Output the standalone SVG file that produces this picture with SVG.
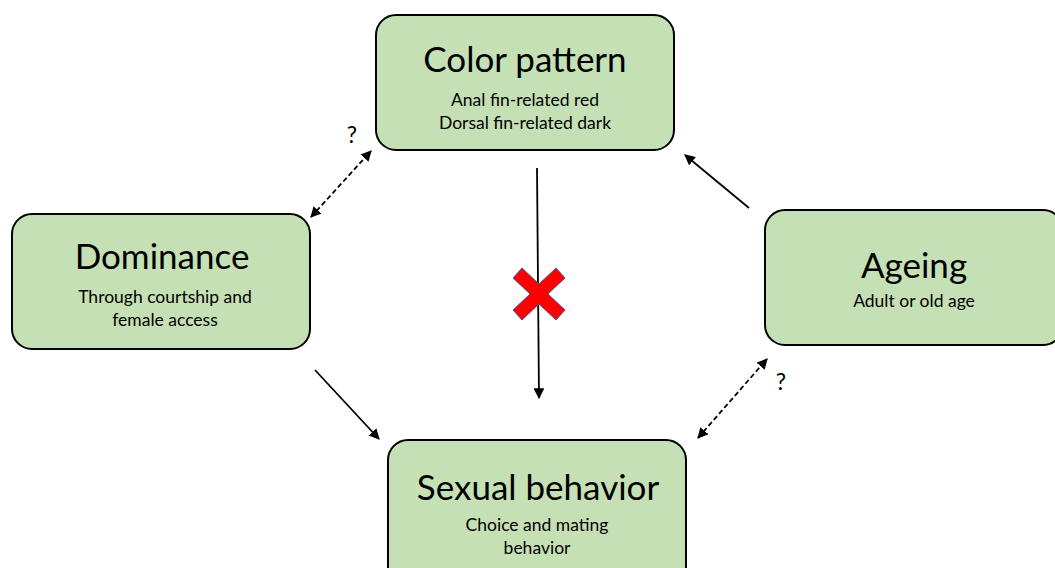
<svg xmlns="http://www.w3.org/2000/svg" width="1055" height="568" viewBox="0 0 1055 568">
<style>
.box{fill:#c5e0b4;stroke:#000;stroke-width:2}
.t{font-family:Lato,"Open Sans",sans-serif;fill:#000;text-anchor:middle}
.h{font-size:35px}
.s{font-size:17.5px}
.q{font-size:23px}
.c{stroke:#000;stroke-width:1.8;fill:none}
.d{stroke-dasharray:5,3}
</style>
<defs>
<marker id="ah" viewBox="0 0 10 10" refX="9" refY="5" markerWidth="6" markerHeight="6" orient="auto-start-reverse">
<path d="M0,0 L10,5 L0,10 z" fill="#000"/>
</marker>
</defs>
<rect width="1055" height="568" fill="#fff"/>
<g id="color-pattern">
<rect class="box" x="376" y="15" width="298" height="135" rx="20"/>
<text class="t h" x="525" y="72">Color pattern</text>
<text class="t s" x="525" y="106">Anal fin-related red</text>
<text class="t s" x="525" y="129">Dorsal fin-related dark</text>
</g>
<g id="dominance">
<rect class="box" x="12" y="214" width="298" height="135" rx="20"/>
<text class="t h" x="162" y="269">Dominance</text>
<text class="t s" x="165" y="303">Through courtship and</text>
<text class="t s" x="165" y="326">female access</text>
</g>
<g id="ageing">
<rect class="box" x="765" y="210" width="298" height="135" rx="20"/>
<text class="t h" x="914" y="278">Ageing</text>
<text class="t s" x="914" y="307">Adult or old age</text>
</g>
<g id="sexual-behavior">
<rect class="box" x="388" y="440" width="298" height="150" rx="20"/>
<text class="t h" x="538" y="500">Sexual behavior</text>
<text class="t s" x="537" y="531">Choice and mating</text>
<text class="t s" x="537" y="554">behavior</text>
</g>
<g id="connectors">
<path class="c" d="M537,168 L539,398" marker-end="url(#ah)"/>
<path class="c d" d="M311,217 L371,151" marker-start="url(#ah)" marker-end="url(#ah)"/>
<path class="c" d="M749,208 L685,155" marker-end="url(#ah)"/>
<path class="c d" d="M698,438 L767,359" marker-start="url(#ah)" marker-end="url(#ah)"/>
<path class="c" d="M315,370 L379,439" marker-end="url(#ah)"/>
<text class="t q" x="352" y="143">?</text>
<text class="t q" x="781" y="390">?</text>
<path d="M513,278 L522,268 L539,284 L556,268 L565,278 L548,294 L565,310 L556,320 L539,304 L522,320 L513,310 L530,294 z" fill="#ff0000" stroke="#4a5a9a" stroke-width="1"/>
</g>
</svg>
